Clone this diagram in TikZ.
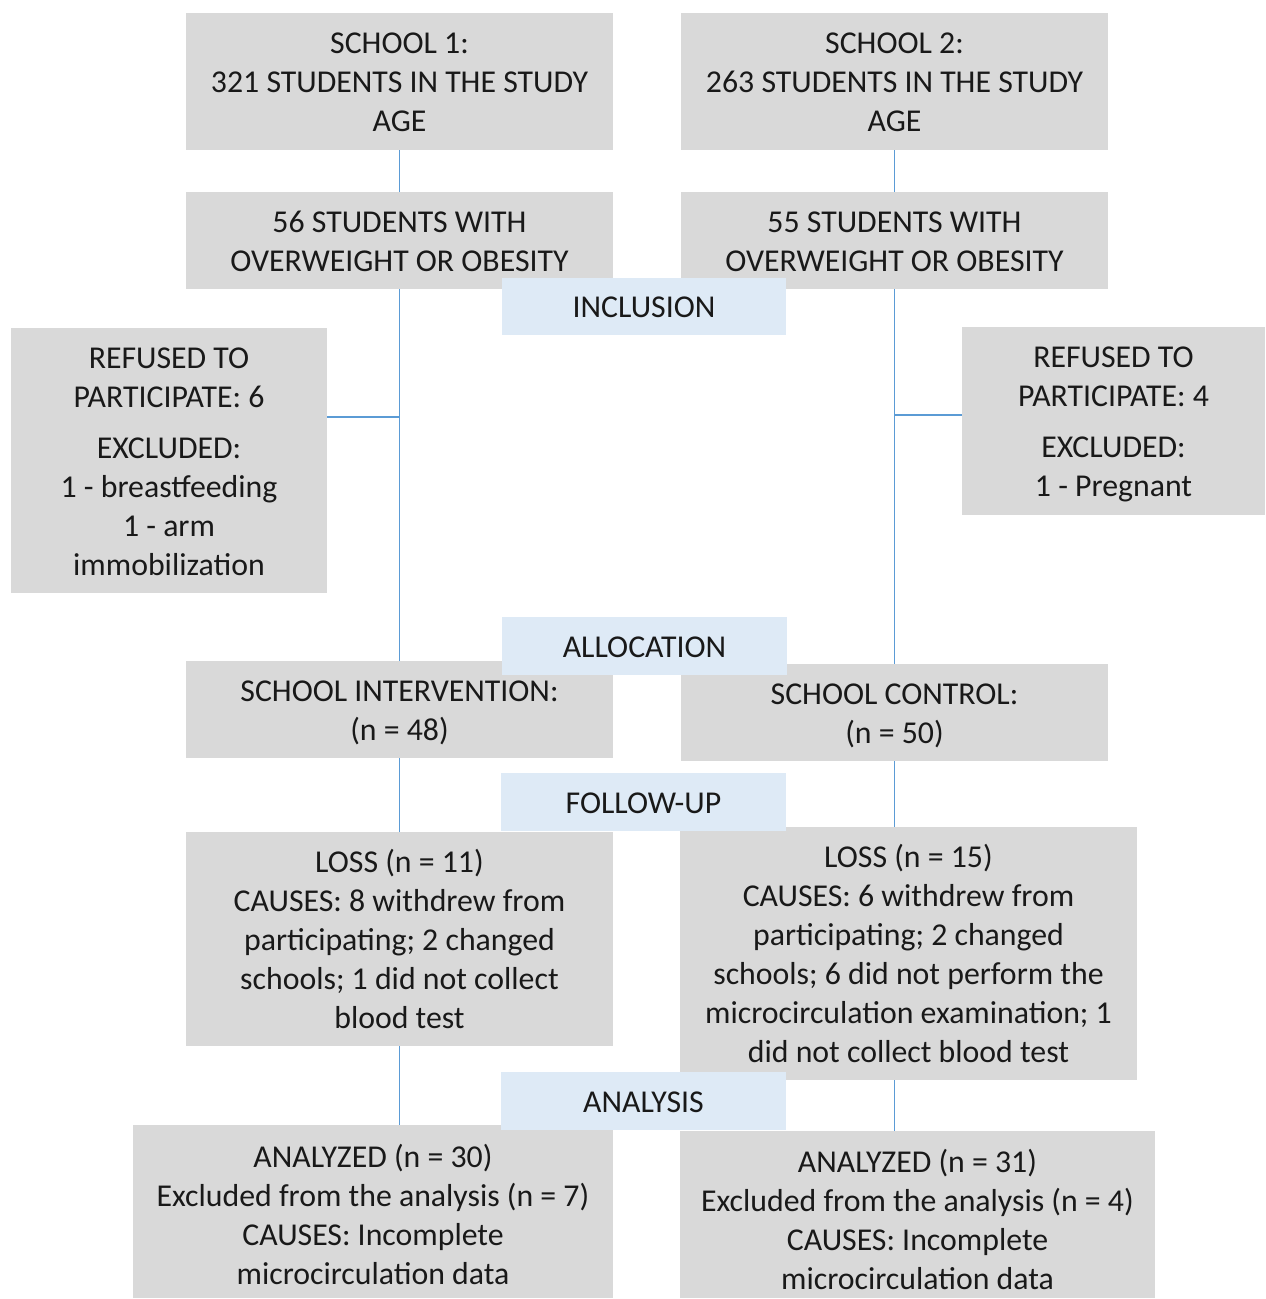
\documentclass[tikz,border=0pt]{standalone}
\usepackage{fontspec}
\setmainfont{Carlito}
\usetikzlibrary{backgrounds}
\definecolor{boxgray}{HTML}{D9D9D9}
\definecolor{phaseblue}{HTML}{DEEAF6}
\definecolor{linkblue}{HTML}{5B9BD5}
\newcommand\tS{\rule{0pt}{31pt}}
\newcommand\bS{\rule[-8.6pt]{0pt}{0pt}}
\begin{document}
\begin{tikzpicture}[x=1pt,y=-1pt,
  txt/.style={font=\fontsize{31.8}{39}\selectfont, align=center, inner sep=0pt, text=black!90},
  gbox/.style={txt, fill=boxgray},
  pbox/.style={txt, fill=phaseblue},
  link/.style={draw=linkblue, line width=1.3pt}]
\useasboundingbox (0,0) rectangle (1266,1299);
% gray boxes
\node[gbox, minimum width=427, minimum height=137] (s1) at (399.5,81.5) {\tS SCHOOL 1:\\321 STUDENTS IN THE STUDY\\AGE\bS};
\node[gbox, minimum width=427, minimum height=137] (s2) at (894.5,81.5) {\tS SCHOOL 2:\\263 STUDENTS IN THE STUDY\\AGE\bS};
\node[gbox, minimum width=427, minimum height=97] (o1) at (399.5,240.5) {\tS 56 STUDENTS WITH\\OVERWEIGHT OR OBESITY\bS};
\node[gbox, minimum width=427, minimum height=97] (o2) at (894.5,240.5) {\tS 55 STUDENTS WITH\\OVERWEIGHT OR OBESITY\bS};
\node[gbox, minimum width=316, minimum height=265] (r1) at (169,460.5) {\tS REFUSED TO\\PARTICIPATE: 6\\[12pt]EXCLUDED:\\1 - breastfeeding\\1 - arm\\immobilization\bS};
\node[gbox, minimum width=303, minimum height=188] (r2) at (1113.5,421) {\tS REFUSED TO\\PARTICIPATE: 4\\[12pt]EXCLUDED:\\1 - Pregnant\bS};
\node[gbox, minimum width=427, minimum height=97] (int) at (399.5,709.5) {\tS SCHOOL INTERVENTION:\\(n = 48)\bS};
\node[gbox, minimum width=427, minimum height=97] (ctl) at (894.5,712.5) {\tS SCHOOL CONTROL:\\(n = 50)\bS};
\node[gbox, minimum width=427, minimum height=214] (l1) at (399.5,939) {\tS LOSS (n = 11)\\CAUSES: 8 withdrew from\\participating; 2 changed\\schools; 1 did not collect\\blood test\bS};
\node[gbox, minimum width=457, minimum height=253] (l2) at (908.5,953.5) {\tS LOSS (n = 15)\\CAUSES: 6 withdrew from\\participating; 2 changed\\schools; 6 did not perform the\\microcirculation examination; 1\\did not collect blood test\bS};
\node[gbox, minimum width=480, minimum height=173] (a1) at (373,1211.5) {\rule{0pt}{37pt}ANALYZED (n = 30)\\Excluded from the analysis (n = 7)\\CAUSES: Incomplete\\microcirculation data\bS};
\node[gbox, minimum width=475, minimum height=167] (a2) at (917.5,1214.5) {\rule{0pt}{41pt}ANALYZED (n = 31)\\Excluded from the analysis (n = 4)\\CAUSES: Incomplete\\microcirculation data\bS};
% phase boxes
\node[pbox, minimum width=284, minimum height=57] (pinc) at (644,306.5) {\tS INCLUSION\bS};
\node[pbox, minimum width=285, minimum height=58] (palloc) at (644.5,646) {\tS ALLOCATION\bS};
\node[pbox, minimum width=285, minimum height=58] (pfol) at (643.5,802) {\tS FOLLOW-UP\bS};
\node[pbox, minimum width=285, minimum height=58] (pana) at (643.5,1101) {\tS ANALYSIS\bS};
% connectors
\coordinate (j1) at (400,417);
\coordinate (j2) at (895,415);
\begin{scope}[on background layer]
\draw[link] (s1.south) -- (o1.north);
\draw[link] (s2.south) -- (o2.north);
\draw[link] (o1.south) -- (int.north);
\draw[link] (o2.south) -- (ctl.north);
\draw[link] (r1.east |- j1) -- (j1);
\draw[link] (r2.west |- j2) -- (j2);
\draw[link] (int.south) -- (l1.north);
\draw[link] (ctl.south) -- (ctl.south |- l2.north);
\draw[link] (l1.south) -- (l1.south |- a1.north);
\draw[link] (ctl.south |- l2.south) -- (ctl.south |- a2.north);
\end{scope}
\end{tikzpicture}
\end{document}
